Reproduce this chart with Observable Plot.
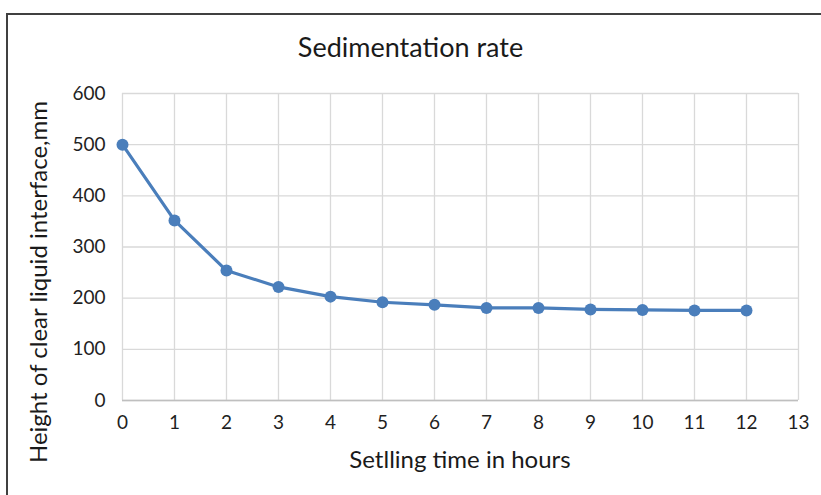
<!DOCTYPE html>
<html>
<head>
<meta charset="utf-8">
<script src="https://cdn.jsdelivr.net/npm/d3@7"></script>
<script src="https://cdn.jsdelivr.net/npm/@observablehq/plot@0.6"></script>
<style>
  html, body { margin: 0; padding: 0; background: #fff; overflow: hidden; }
  #wrap { position: relative; width: 821px; height: 495px; font-family: Lato, "Open Sans", sans-serif; color: #1a1a1a; }
  #frame { position: absolute; left: 6px; top: 13px; width: 900px; height: 600px; border-left: 2px solid #404040; border-top: 2px solid #404040; box-sizing: border-box; }
  #title { height: 60px; position: relative; }
  #title span { position: absolute; left: 0; right: 0; top: 31px; text-align: center; font-size: 27px; line-height: 32px; }
  #xlabel { position: absolute; left: 122px; width: 676px; top: 444px; text-align: center; font-size: 24px; line-height: 30px; }
  #ylabel { position: absolute; left: 38px; top: 282px; transform: translate(-50%, -50%) rotate(-90deg); white-space: nowrap; font-size: 24px; line-height: 30px; }
  #chart svg { display: block; }
</style>
</head>
<body>
<div id="wrap">
  <div id="frame"></div>
  <div id="title"><span>Sedimentation rate</span></div>
  <div id="chart"></div>
  <div id="xlabel">Setlling time in hours</div>
  <div id="ylabel">Height of clear liquid interface,mm</div>
</div>
<script>
const hours = [0, 1, 2, 3, 4, 5, 6, 7, 8, 9, 10, 11, 12];
const heights = [500, 352, 254, 222, 203, 192, 187, 181, 181, 178, 177, 176, 176];
const xTicks = [0, 1, 2, 3, 4, 5, 6, 7, 8, 9, 10, 11, 12, 13];
const yTicks = [0, 100, 200, 300, 400, 500, 600];

const data = hours.map((h, i) => ({hour: h, height: heights[i]}));

const chart = Plot.plot({
  width: 821,
  height: 380,
  marginTop: 33,
  marginBottom: 40,
  marginLeft: 122,
  marginRight: 23,
  style: {fontFamily: "Lato, 'Open Sans', sans-serif", fontSize: "19px", color: "#1f1f1f", background: "#fff"},
  x: {domain: [0, 13], ticks: xTicks, label: null},
  y: {domain: [0, 600], ticks: yTicks, label: null},
  marks: [
    Plot.gridX(xTicks, {stroke: "#d9d9d9", strokeOpacity: 1, strokeWidth: 1.3}),
    Plot.gridY(yTicks, {stroke: "#d9d9d9", strokeOpacity: 1, strokeWidth: 1.3}),
    Plot.ruleY([0], {stroke: "#bfbfbf", strokeWidth: 1.5}),
    Plot.axisX(xTicks, {tickSize: 0, tickPadding: 15, label: null, fontSize: 19, fill: "#1f1f1f"}),
    Plot.axisY(yTicks, {tickSize: 0, tickPadding: 17, label: null, fontSize: 19, fill: "#1f1f1f"}),
    Plot.line(data, {x: "hour", y: "height", stroke: "#4a7ebb", strokeWidth: 3.2}),
    Plot.dot(data, {x: "hour", y: "height", fill: "#4a7ebb", r: 6})
  ]
});
document.getElementById("chart").appendChild(chart);
</script>
</body>
</html>
